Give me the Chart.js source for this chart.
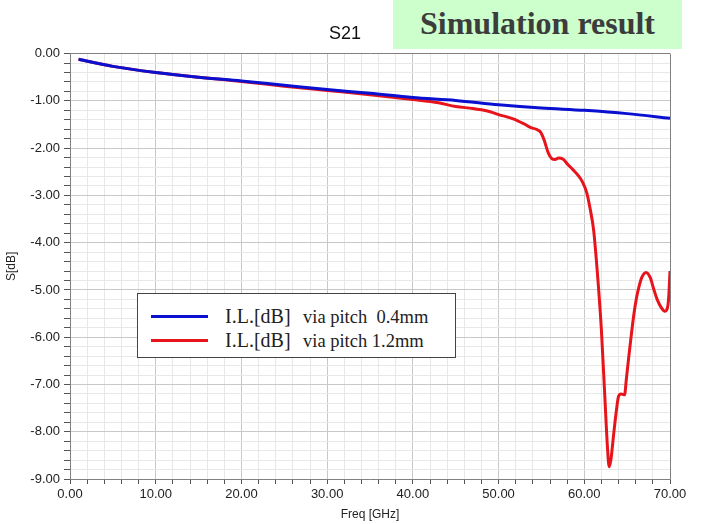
<!DOCTYPE html>
<html>
<head>
<meta charset="utf-8">
<script src="https://cdn.jsdelivr.net/npm/chart.js@4"></script>
<style>
  body{margin:0;background:#fff;}
  #wrap{position:relative;width:704px;height:524px;}
  #banner{position:absolute;left:393px;top:0;width:289px;height:49px;background:#ccffcc;
    font:bold 32px "Liberation Serif",serif;color:#3c3c3c;text-align:center;line-height:46px;}
  #legend{position:absolute;left:137px;top:293px;width:319px;height:65px;background:#fff;
    border:1px solid #444;box-sizing:border-box;}
  .row{position:absolute;left:0;height:24px;font-family:"Liberation Serif",serif;color:#222;white-space:pre;}
  .row .ln{position:absolute;left:13px;top:11px;width:57px;height:3px;}
  .row .big{position:absolute;left:87px;top:0;font-size:20px;line-height:24px;}
  .row .small{position:absolute;left:165px;top:1px;font-size:18.5px;line-height:24px;}
</style>
</head>
<body>
<div id="wrap">
  <canvas id="chart" width="704" height="524"></canvas>
  <div id="banner">Simulation result</div>
  <div id="legend"></div>
</div>
<script>
// blue: via pitch 0.4mm
const freqBlue = [1, 5, 10, 15, 20, 25, 30, 35, 40, 45, 50, 55, 60, 65, 70];
const lossBlue = [-0.12, -0.27, -0.40, -0.50, -0.58, -0.67, -0.76, -0.84, -0.93, -0.99, -1.08, -1.15, -1.20, -1.27, -1.37];
// red: via pitch 1.2mm
const freqRed = [1, 5, 10, 15, 20, 25, 30, 35, 40, 43, 45, 47, 48, 49, 50, 51.7, 53, 53.7, 54.5, 54.9, 55.3, 55.8, 56.2, 56.6, 57.0, 57.5, 58.1, 58.7, 59.3, 59.8, 60.3, 60.7, 61.1, 61.6, 62.0, 62.4, 62.7, 62.9, 63.1, 63.4, 63.7, 64.0, 64.3, 64.7, 64.9, 65.2, 65.5, 65.8, 66.1, 66.4, 66.7, 67.2, 67.7, 68.1, 68.5, 69.0, 69.4, 69.7, 69.85, 70.0];
const lossRed = [-0.12, -0.27, -0.40, -0.50, -0.59, -0.69, -0.78, -0.87, -0.97, -1.04, -1.12, -1.16, -1.19, -1.23, -1.29, -1.38, -1.49, -1.56, -1.61, -1.66, -1.82, -2.10, -2.22, -2.24, -2.21, -2.23, -2.35, -2.46, -2.58, -2.72, -2.95, -3.30, -3.75, -4.81, -5.86, -7.27, -8.32, -8.74, -8.60, -8.10, -7.62, -7.25, -7.20, -7.22, -6.90, -6.40, -5.93, -5.50, -5.16, -4.92, -4.74, -4.63, -4.74, -4.98, -5.20, -5.38, -5.45, -5.38, -5.15, -4.60];

const seriesNames = ['I.L.[dB]|via pitch  0.4mm', 'I.L.[dB]|via pitch 1.2mm'];
const seriesColors = ['#0a10d0', '#e8141c'];
const xTicks = [0, 70, 2];   // min, max, step
const yTicks = [-9, 0, 0.2];

function pts(xs, ys){ return xs.map((x,i)=>({x:x, y:ys[i]})); }

Chart.defaults.font.family = '"Liberation Sans", Arial, sans-serif';
Chart.defaults.color = '#222';

function gridCol(ctx, edge, major){
  const v = ctx.tick ? ctx.tick.value : 0;
  if(Math.abs(v-edge) < 1e-6) return '#808080';
  return Math.abs(v/major - Math.round(v/major)) < 1e-6 ? '#c8c8c8' : '#e8e8e8';
}

// nudge title to where the reference has it
const titleShift = {
  id: 'titleShift',
  beforeDraw(chart){ if(chart.titleBlock){ chart.titleBlock.left = 0; chart.titleBlock.right = 690; } }
};

new Chart(document.getElementById('chart'), {
  type: 'line',
  data: {
    datasets: [0,1].map(i => ({
      label: seriesNames[i].replace('|',' '),
      data: i===0 ? pts(freqBlue, lossBlue) : pts(freqRed, lossRed),
      borderColor: seriesColors[i],
      borderWidth: 3,
      pointRadius: 0,
      cubicInterpolationMode: 'monotone',
      fill: false
    }))
  },
  options: {
    responsive: false,
    animation: false,
    layout: {padding: {left: 0, right: 34, top: 0, bottom: 0}},
    plugins: {
      legend: {display: false},
      tooltip: {enabled: false},
      title: {display: true, text: 'S21', color: '#111',
        font: {size: 18, weight: 'normal'}, padding: {top: 23, bottom: 9}}
    },
    scales: {
      x: {
        type: 'linear', min: xTicks[0], max: xTicks[1],
        border: {color: '#808080', width: 1},
        grid: {color: c => gridCol(c, xTicks[1], 10), tickColor: '#555', tickLength: 5},
        ticks: {stepSize: xTicks[2], autoSkip: false, maxRotation: 0, padding: 3,
          font: {size: 13},
          callback: v => (Math.abs(v % 10) < 1e-6 ? Number(v).toFixed(2) : '')},
        title: {display: true, text: 'Freq [GHz]', font: {size: 12}, padding: {top: 2, bottom: 2}},
        afterFit: s => { s.height = 45; }
      },
      y: {
        min: yTicks[0], max: yTicks[1],
        border: {color: '#808080', width: 1},
        grid: {color: c => gridCol(c, yTicks[1], 1), tickColor: '#555', tickLength: 6},
        ticks: {stepSize: yTicks[2], autoSkip: false, padding: 4, font: {size: 13},
          callback: v => { const r = Math.round(v); return Math.abs(v-r) < 1e-6 ? (r === 0 ? 0 : r).toFixed(2) : ''; }},
        title: {display: true, text: 'S[dB]', font: {size: 12}, padding: {top: 4, bottom: 0}},
        afterFit: s => { s.width = 70; }
      }
    }
  },
  plugins: [titleShift]
});

// legend box in the plot
const lg = document.getElementById('legend');
seriesNames.forEach((n, i) => {
  const parts = n.split('|');
  const row = document.createElement('div');
  row.className = 'row';
  row.style.top = (10 + i*24) + 'px';
  row.innerHTML = `<span class="ln" style="background:${seriesColors[i]}"></span><span class="big">${parts[0]}</span><span class="small">${parts[1]}</span>`;
  lg.appendChild(row);
});
</script>
</body>
</html>
